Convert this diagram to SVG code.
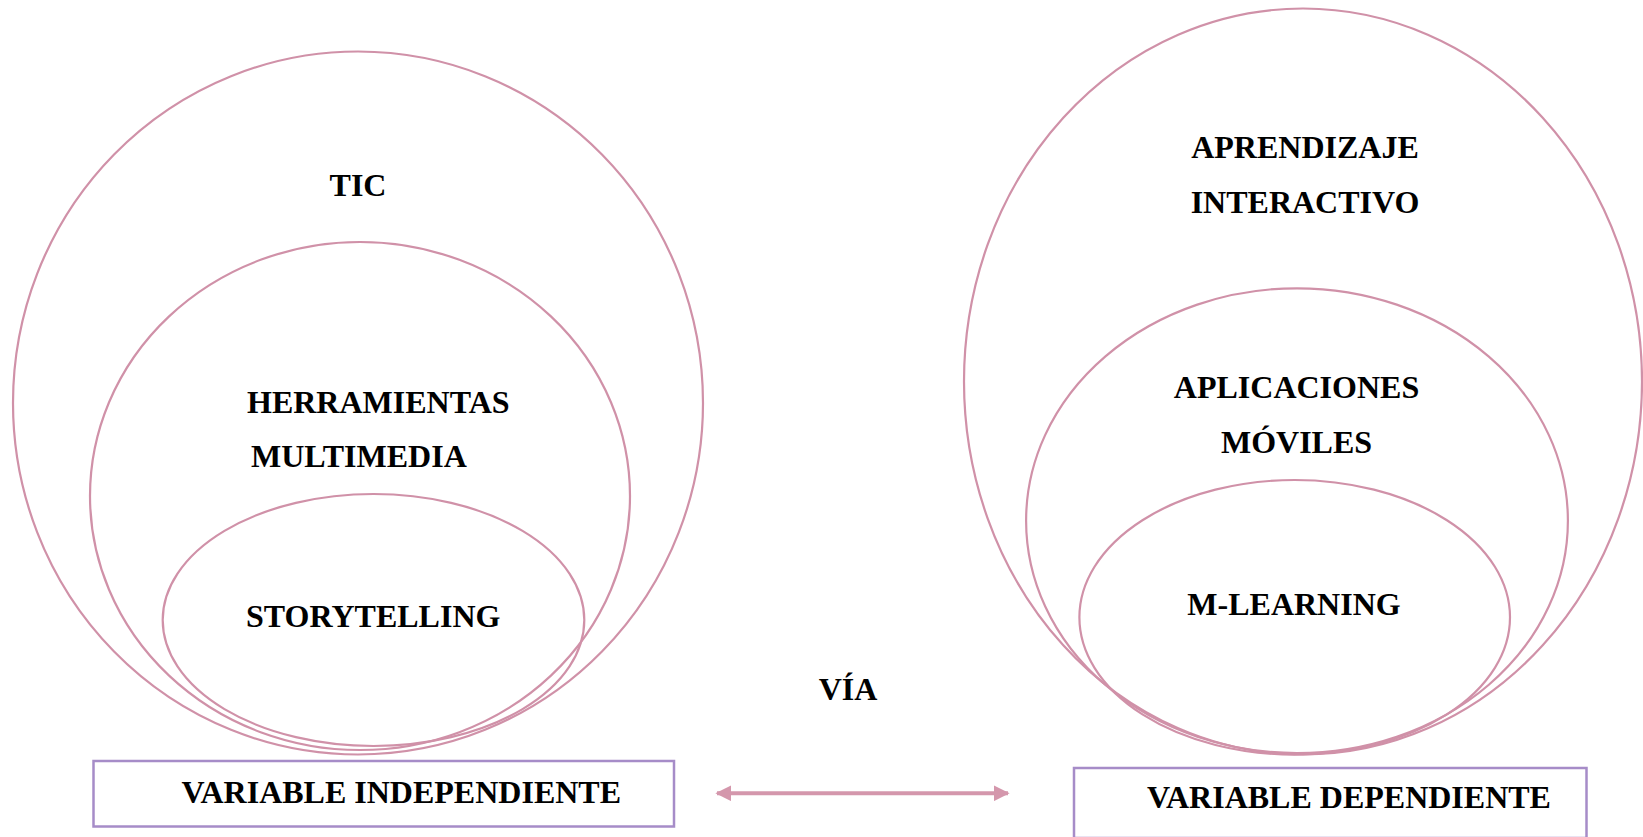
<svg xmlns="http://www.w3.org/2000/svg" width="1643" height="837" viewBox="0 0 1643 837">
<style>
.c{fill:none;stroke:#D091A8;stroke-width:2.2}
.b{fill:#fff;stroke:#A68CC8;stroke-width:2.5}
.t{font-family:"Liberation Serif","Times New Roman",serif;font-weight:bold;font-size:32px;fill:#000}
</style>
<defs>
<marker id="ah" viewBox="0 0 10 10" refX="9" refY="5" markerWidth="4" markerHeight="4" orient="auto-start-reverse" markerUnits="strokeWidth">
<path d="M0,0 L10,5 L0,10 Z" fill="#D497AC"/>
</marker>
</defs>
<rect width="1643" height="837" fill="#fff"/>
<g id="tic">
<ellipse class="c" cx="358" cy="403" rx="345" ry="351.5"/>
<text class="t" x="358" y="196" text-anchor="middle">TIC</text>
</g>
<g id="herramientas">
<ellipse class="c" cx="360" cy="496" rx="270" ry="254"/>
<text class="t" x="247" y="413">HERRAMIENTAS</text>
<text class="t" x="251" y="467">MULTIMEDIA</text>
</g>
<g id="storytelling">
<ellipse class="c" cx="373.5" cy="620" rx="210.8" ry="126"/>
<text class="t" x="246" y="627">STORYTELLING</text>
</g>
<g id="aprendizaje">
<ellipse class="c" cx="1303" cy="381.5" rx="339" ry="373"/>
<text class="t" x="1305" y="158" text-anchor="middle">APRENDIZAJE</text>
<text class="t" x="1305" y="213" text-anchor="middle">INTERACTIVO</text>
</g>
<g id="aplicaciones">
<ellipse class="c" cx="1297" cy="520.7" rx="270.9" ry="232.4"/>
<text class="t" x="1296.5" y="398" text-anchor="middle">APLICACIONES</text>
<text class="t" x="1296.5" y="453" text-anchor="middle">MÓVILES</text>
</g>
<g id="mlearning">
<ellipse class="c" cx="1294.7" cy="617.3" rx="215.3" ry="137.3"/>
<text class="t" x="1294" y="615" text-anchor="middle">M-LEARNING</text>
</g>
<g id="via">
<text class="t" x="848" y="700" text-anchor="middle">VÍA</text>
</g>
<g id="var-indep">
<rect class="b" x="93.5" y="761" width="580.5" height="65.5"/>
<text class="t" x="181.5" y="803">VARIABLE INDEPENDIENTE</text>
</g>
<g id="var-dep">
<rect class="b" x="1074" y="768" width="512.5" height="70"/>
<text class="t" x="1147" y="808">VARIABLE DEPENDIENTE</text>
</g>
<g id="connectors">
<line x1="717" y1="793.3" x2="1008" y2="793.3" stroke="#D497AC" stroke-width="4" marker-start="url(#ah)" marker-end="url(#ah)"/>
</g>
</svg>
